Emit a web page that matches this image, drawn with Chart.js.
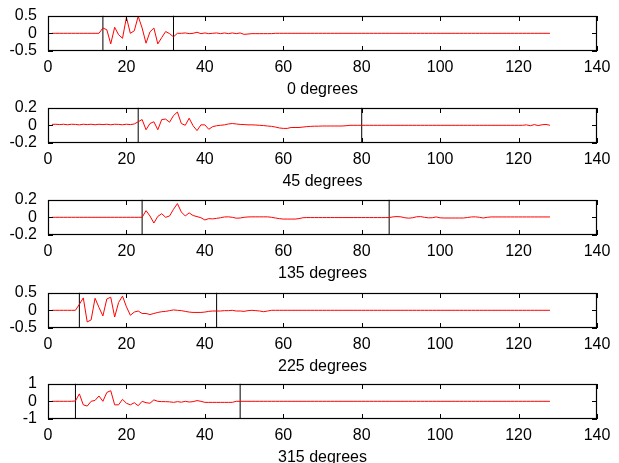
<!DOCTYPE html>
<html>
<head>
<meta charset="utf-8">
<script src="https://cdn.jsdelivr.net/npm/chart.js@4.4.1/dist/chart.umd.min.js"></script>
<style>
  body { margin: 0; background: #fff; width: 619px; height: 463px; position: relative; overflow: hidden; }
  canvas { position: absolute; left: 0; }
</style>
</head>
<body>
<script>
// panel titles
const titles = ['0 degrees', '45 degrees', '135 degrees', '225 degrees', '315 degrees'];
// y limits of each panel (symmetric)
const yLimits = [0.5, 0.2, 0.2, 0.5, 1];
// x axis ticks
const xTicks = [0, 20, 40, 60, 80, 100, 120, 140];
// vertical marker lines (x positions)
const markers0 = [14, 32];
const markers45 = [23, 80];
const markers135 = [24, 87];
const markers225 = [8, 43];
const markers315 = [7, 49];

// sample values, index 1..128
const s0 = [
  0,0,0,0,0,0,0,0,0,0,0,0,0,0.15,0.1,-0.3,
  0.17,-0.04,-0.14,0.45,0,0.07,0.48,0.15,-0.28,0.04,0.15,-0.3,-0.12,0.05,-0.01,-0.1,
  0,0,0.01,-0.01,0,0.03,-0.01,0.01,-0.01,0,0.01,-0.01,0.01,-0.01,0.01,-0.01,
  0.01,-0.03,-0.02,-0.01,-0.01,-0.01,-0.01,-0.01,-0.01,0,0,0,0,0,0,0,
  0,0,0,0,0,0,0,0,0,0,0,0,0,0,0,0,
  0,0,0,0,0,0,0,0,0,0,0,0,0,0,0,0,
  0,0,0,0,0,0,0,0,0,0,0,0,0,0,0,0,
  0,0,0,0,0,0,0,0,0,0,0,0,0,0,0,0
];
const s45 = [
  0.01,0.012,0.008,0.012,0.006,0.012,0.01,0.005,0.012,0.008,0.012,0.006,0.012,0.008,0.012,0.006,
  0.012,0.01,0.006,0.012,0.008,0.015,0.04,0.065,-0.05,0.02,0.04,-0.05,0.065,0.07,0.035,0.11,
  0.15,0.02,0,0.08,-0.005,-0.06,0.005,0.005,-0.045,-0.015,-0.005,0,0.005,0.015,0.02,0.015,
  0.01,0.008,0.005,0.005,0.003,0,-0.003,-0.008,-0.012,-0.02,-0.03,-0.035,-0.035,-0.025,-0.025,-0.025,
  -0.02,-0.015,-0.012,-0.01,-0.01,-0.008,-0.008,-0.008,-0.008,-0.008,-0.008,-0.005,0,0,0,0,
  0,0,0,0,0,0,0,0,0,0,0,0,0,0,0,0,
  0,0,0,0,0,0,0,0,0,0,0,0,0,0,0,0,
  0,0,0,0,0,0,0,0,0,0.005,-0.005,0.008,-0.003,0.006,0.01,0
];
const s135 = [
  0,0,0,0,0,0,0,0,0,0,0,0,0,0,0,0,
  0,0,0,0,0,0,0,0,0.075,0.015,-0.065,0.01,0.04,0,0.015,0.09,
  0.155,0.06,0.015,0.05,0.02,0.008,-0.005,-0.03,-0.015,-0.018,-0.012,-0.005,0.004,0.005,0,-0.01,
  -0.008,0,0.004,0.005,0.005,0.005,0.005,0.005,0,-0.008,-0.015,-0.02,-0.02,-0.02,-0.02,-0.015,
  -0.005,-0.003,-0.003,-0.003,-0.003,-0.003,-0.003,-0.003,-0.003,-0.003,-0.003,-0.003,-0.003,-0.003,-0.003,-0.003,
  -0.003,-0.003,-0.003,-0.003,-0.003,-0.003,-0.003,0.005,0.008,0.005,-0.005,-0.01,-0.005,0.006,0.008,0,
  -0.006,-0.005,0.004,-0.006,-0.008,-0.008,-0.008,-0.008,-0.008,-0.008,-0.002,0.004,0.005,0,-0.008,0,
  0.004,0.004,0.004,0.004,0.004,0.004,0.004,0.004,0.004,0.004,0.004,0.004,0.004,0.004,0.004,0.004
];
const s225 = [
  0,0,0,0,0,0,0,0.17,0.35,-0.33,-0.27,0.34,0.08,-0.16,0.32,0.37,
  -0.19,0.22,0.4,0.1,-0.14,-0.05,-0.02,-0.09,-0.09,-0.12,-0.09,-0.06,-0.04,-0.03,-0.01,0.01,
  0,-0.01,-0.03,-0.05,-0.06,-0.06,-0.06,-0.05,-0.03,-0.02,-0.02,-0.02,-0.01,-0.01,0,-0.02,
  -0.02,-0.03,-0.01,0,-0.01,-0.02,-0.04,-0.02,0,0,0,0,0,0,0,0,
  0,0,0,0,0,0,0,0,0,0,0,0,0,0,0,0,
  0,0,0,0,0,0,0,0,0,0,0,0,0,0,0,0,
  0,0,0,0,0,0,0,0,0,0,0,0,0,0,0,0,
  0,0,0,0,0,0,0,0,0,0,0,0,0,0,0,0
];
const s315 = [
  0,0,0,0,0,0,0.02,0.42,-0.2,-0.27,0,0.05,0.3,0,0.5,0.6,
  -0.2,-0.2,0.11,-0.11,-0.2,-0.08,-0.25,0,-0.08,-0.11,0.08,0,-0.02,-0.02,-0.03,-0.06,
  -0.02,-0.05,0,-0.04,-0.02,0.04,0,-0.06,-0.06,-0.06,-0.06,-0.06,-0.06,-0.06,-0.06,0,
  0,0,0,0,0,0,0,0,0,0,0,0,0,0,0,0,
  0,0,0,0,0,0,0,0,0,0,0,0,0,0,0,0,
  0,0,0,0,0,0,0,0,0,0,0,0,0,0,0,0,
  0,0,0,0,0,0,0,0,0,0,0,0,0,0,0,0,
  0,0,0,0,0,0,0,0,0,0,0,0,0,0,0,0
];

const series = [s0, s45, s135, s225, s315];
const markers = [markers0, markers45, markers135, markers225, markers315];

// layout: top of each plot box (px) and box height
const plotTops = [16, 108, 200, 293, 384];
const plotH = 35;
const padTop = 12;
const axisH = 48;

Chart.defaults.font.family = '"Liberation Sans", Arial, sans-serif';
Chart.defaults.font.size = 16;
Chart.defaults.color = '#000';

// box + inward ticks on all four sides
const frame = {
  id: 'frame',
  afterDraw(chart) {
    const { ctx, chartArea: a, scales: { x, y } } = chart;
    const lim = y.max;
    const top = Math.round(a.top), bot = Math.round(a.bottom);
    const left = Math.round(a.left), right = Math.round(a.right);
    ctx.save();
    ctx.fillStyle = '#000';
    xTicks.forEach(v => {
      const px = Math.round(x.getPixelForValue(v));
      ctx.fillRect(px, bot - 5, 1, 5);
      ctx.fillRect(px, top, 1, 5);
    });
    [-lim, 0, lim].forEach(v => {
      const py = Math.round(y.getPixelForValue(v));
      ctx.fillRect(left, py, 5, 1);
      ctx.fillRect(right - 5, py, 5, 1);
    });
    ctx.strokeStyle = '#000';
    ctx.lineWidth = 1.2;
    ctx.strokeRect(left + 0.5, top + 0.5, right - left - 1, bot - top - 1);
    ctx.restore();
  }
};

function build(cv, i) {
  const vals = series[i];
  const lim = yLimits[i];
  const datasets = [{
    data: vals.map((v, k) => ({ x: k + 1, y: v })),
    borderColor: '#ff0000',
    borderWidth: 1,
    pointRadius: 0
  }];
  markers[i].forEach(m => {
    datasets.push({
      data: [{ x: m, y: -lim }, { x: m, y: lim }],
      borderColor: '#000',
      borderWidth: 1,
      pointRadius: 0
    });
  });

  return new Chart(cv, {
    type: 'line',
    data: { datasets },
    options: {
      responsive: false,
      animation: false,
      devicePixelRatio: 1,
      layout: { padding: { top: padTop, right: 22, left: 0, bottom: 0 } },
      plugins: { legend: { display: false }, tooltip: { enabled: false } },
      scales: {
        x: {
          type: 'linear',
          min: 0, max: 140,
          afterBuildTicks: s => { s.ticks = xTicks.map(v => ({ value: v })); },
          ticks: { padding: -1, maxRotation: 0, autoSkip: false },
          grid: { display: false },
          border: { display: false },
          title: { display: true, text: titles[i], padding: 0 },
          afterFit: s => { s.height = axisH; }
        },
        y: {
          min: -lim, max: lim,
          afterBuildTicks: s => { s.ticks = [-lim, 0, lim].map(v => ({ value: v })); },
          ticks: { padding: 3, autoSkip: false },
          grid: { display: false },
          border: { display: false },
          afterFit: s => { s.width = 48; }
        }
      }
    },
    plugins: [frame]
  });
}

series.forEach((vals, i) => {
  const cv = document.createElement('canvas');
  cv.width = 619;
  cv.height = padTop + plotH + axisH;
  document.body.appendChild(cv);
  let chart = build(cv, i);
  // grow the canvas if the layout ate some of the plot height
  const got = chart.chartArea.bottom - chart.chartArea.top;
  if (Math.abs(got - plotH) > 0.5) {
    chart.destroy();
    cv.width = 619;
    cv.height = Math.round(padTop + plotH + axisH + (plotH - got));
    chart = build(cv, i);
  }
  cv.style.top = Math.round(plotTops[i] - chart.chartArea.top) + 'px';
});
</script>
</body>
</html>
